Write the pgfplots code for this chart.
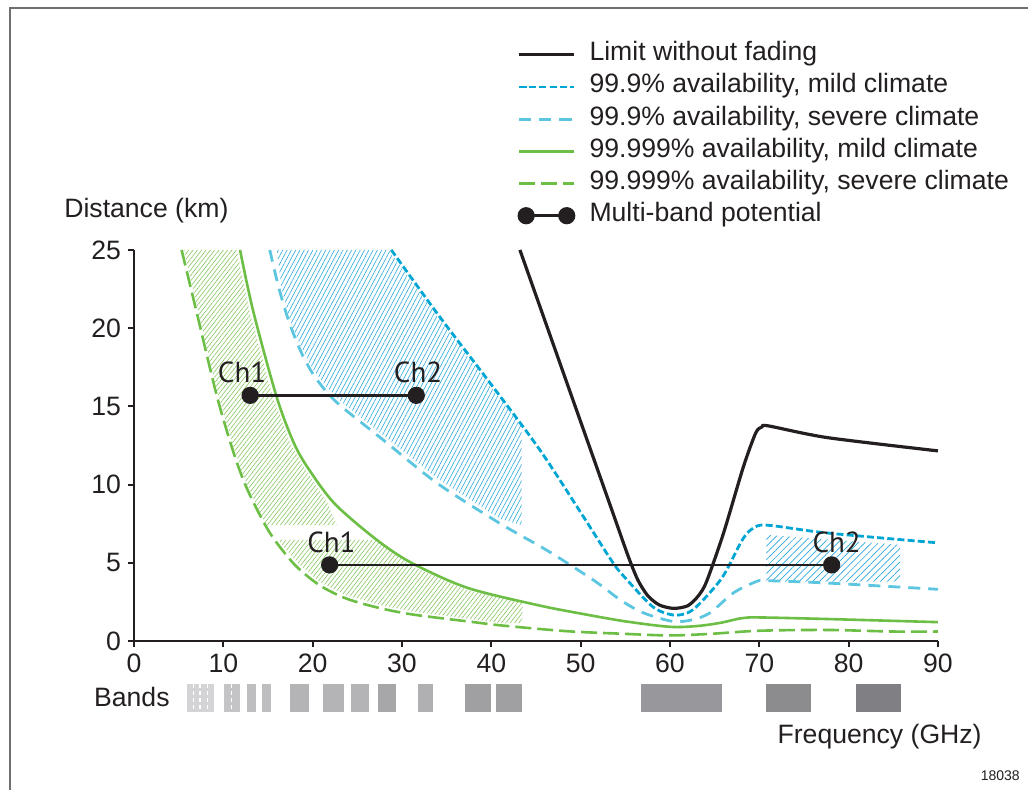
\documentclass[border=0pt]{standalone}
\usepackage{fontspec}
\setmainfont{Liberation Sans}
\newfontfamily\chfont{PT Sans}
\usepackage{pgfplots}
\pgfplotsset{compat=1.18}
\usetikzlibrary{patterns.meta}
\definecolor{cblack}{HTML}{231F20}
\definecolor{dblue}{HTML}{00A6D3}
\definecolor{lblue}{HTML}{5CC6E0}
\definecolor{cgreen}{HTML}{6CBE45}
\definecolor{hgreen}{HTML}{86C55F}
\definecolor{hblue}{HTML}{2AA8DC}
\definecolor{framegray}{HTML}{707070}
\pgfplotsset{mblegend/.style={legend image code/.code={\path (0pt,0pt) (27.5pt,0pt); \draw[##1] plot coordinates {(3.6pt,0pt) (23.9pt,0pt)};}}}
\newcommand{\tf}{\fontsize{13.3}{15}\selectfont}
\begin{document}
\begin{tikzpicture}
\begin{axis}[
  scale only axis, width=402pt, height=195.5pt,
  xmin=0, xmax=90, ymin=0, ymax=25,
  axis x line*=bottom, axis y line*=left,
  axis line style={line width=1.4pt, -, cblack},
  xtick={0,10,...,90}, ytick={0,5,...,25},
  tick align=outside, major tick length=3pt,
  tick style={line width=1pt, cblack},
  ticklabel style={font=\tf, text=cblack},
  /pgf/number format/assume math mode=true,
  clip=false,
  legend cell align=left,
  legend image code/.code={\draw[mark repeat=2,mark phase=2,#1] plot coordinates {(0pt,0pt) (13.75pt,0pt) (27.5pt,0pt)};},
  legend style={at={(axis cs:42.87,38.35)}, anchor=north west, draw=none, fill=none,
    inner sep=0pt, row sep=2.9pt, column sep=7pt,
    font=\tf, text=cblack,
    nodes={inner sep=0pt, text height=9.6pt, text depth=3.6pt}},
]
% ---------- hatched regions ----------
\addplot[draw=none, forget plot, pattern={Lines[angle=52,distance=1.7pt,line width=0.3pt]}, pattern color=hgreen]
  coordinates {(5.6,25) (7.2,21.05) (9.45,15.7) (11.2,12.3) (12.5,10.2) (13.8,8.6) (14.8,7.4) (22.7,7.4) (21.7,8.75) (19.2,10.95) (17.5,12.65) (15.55,15.6) (12.95,21.05) (11.5,25)} -- cycle;
\addplot[draw=none, forget plot, pattern={Lines[angle=52,distance=1.7pt,line width=0.3pt]}, pattern color=hgreen]
  coordinates {(16.2,6.46) (27.0,6.46) (31.0,4.8) (37.3,3.25) (43.5,2.45) (43.5,1.15) (41.3,1.12) (37.6,1.4) (31.3,1.87) (27.5,2.3) (23.8,2.9) (20.8,3.75) (18.4,4.95) (16.8,6.0)} -- cycle;
\addplot[draw=none, forget plot, pattern={Lines[angle=62,distance=1.9pt,line width=0.3pt]}, pattern color=hblue]
  coordinates {(16.0,25) (28.5,25) (34.0,20.7) (39.6,16.5) (43.4,13.7) (43.4,7.4) (41.0,7.8) (33.9,10.4) (27.9,13.15) (23.3,15.25) (21.6,16.2) (20.0,17.4) (18.6,18.9) (17.3,20.8) (16.5,22.6)} -- cycle;
\addplot[draw=none, forget plot, pattern={Lines[angle=45,distance=2.4pt,line width=0.35pt]}, pattern color=hblue]
  coordinates {(70.8,6.78) (85.75,6.14) (85.75,3.79) (70.8,3.79)} -- cycle;
% ---------- bands ----------
\addplot[fill={rgb,255:red,212;green,212;blue,214}, draw=none, forget plot] coordinates {(5.93,-2.75) (8.96,-2.75) (8.96,-4.54) (5.93,-4.54)} -- cycle;
\addplot[fill={rgb,255:red,196;green,196;blue,198}, draw=none, forget plot] coordinates {(10.07,-2.75) (11.87,-2.75) (11.87,-4.54) (10.07,-4.54)} -- cycle;
\addplot[fill={rgb,255:red,190;green,190;blue,192}, draw=none, forget plot] coordinates {(12.6,-2.75) (13.7,-2.75) (13.7,-4.54) (12.6,-4.54)} -- cycle;
\addplot[fill={rgb,255:red,190;green,190;blue,192}, draw=none, forget plot] coordinates {(14.3,-2.75) (15.3,-2.75) (15.3,-4.54) (14.3,-4.54)} -- cycle;
\addplot[fill={rgb,255:red,180;green,180;blue,182}, draw=none, forget plot] coordinates {(17.5,-2.75) (19.6,-2.75) (19.6,-4.54) (17.5,-4.54)} -- cycle;
\addplot[fill={rgb,255:red,180;green,180;blue,182}, draw=none, forget plot] coordinates {(21.2,-2.75) (23.5,-2.75) (23.5,-4.54) (21.2,-4.54)} -- cycle;
\addplot[fill={rgb,255:red,180;green,180;blue,182}, draw=none, forget plot] coordinates {(24.3,-2.75) (26.3,-2.75) (26.3,-4.54) (24.3,-4.54)} -- cycle;
\addplot[fill={rgb,255:red,167;green,167;blue,169}, draw=none, forget plot] coordinates {(27.3,-2.75) (29.3,-2.75) (29.3,-4.54) (27.3,-4.54)} -- cycle;
\addplot[fill={rgb,255:red,176;green,176;blue,178}, draw=none, forget plot] coordinates {(31.8,-2.75) (33.5,-2.75) (33.5,-4.54) (31.8,-4.54)} -- cycle;
\addplot[fill={rgb,255:red,160;green,160;blue,162}, draw=none, forget plot] coordinates {(37.1,-2.75) (40.0,-2.75) (40.0,-4.54) (37.1,-4.54)} -- cycle;
\addplot[fill={rgb,255:red,160;green,160;blue,162}, draw=none, forget plot] coordinates {(40.5,-2.75) (43.4,-2.75) (43.4,-4.54) (40.5,-4.54)} -- cycle;
\addplot[fill={rgb,255:red,152;green,152;blue,156}, draw=none, forget plot] coordinates {(56.8,-2.75) (65.8,-2.75) (65.8,-4.54) (56.8,-4.54)} -- cycle;
\addplot[fill={rgb,255:red,140;green,140;blue,143}, draw=none, forget plot] coordinates {(70.7,-2.75) (75.8,-2.75) (75.8,-4.54) (70.7,-4.54)} -- cycle;
\addplot[fill={rgb,255:red,128;green,128;blue,132}, draw=none, forget plot] coordinates {(80.8,-2.75) (85.9,-2.75) (85.9,-4.54) (80.8,-4.54)} -- cycle;
\addplot[white, line width=0.6pt, dash pattern=on 2pt off 1.5pt, forget plot] coordinates {(6.64,-2.75) (6.64,-4.54)};
\addplot[white, line width=0.6pt, dash pattern=on 2pt off 1.5pt, forget plot] coordinates {(7.39,-2.75) (7.39,-4.54)};
\addplot[white, line width=0.6pt, dash pattern=on 2pt off 1.5pt, forget plot] coordinates {(8.25,-2.75) (8.25,-4.54)};
\addplot[white, line width=0.6pt, dash pattern=on 2pt off 1.5pt, forget plot] coordinates {(10.9,-2.75) (10.9,-4.54)};
% ---------- curves ----------
\addplot[cblack, line width=1.6pt, smooth, tension=0.45] coordinates {
 (43.2,25) (49,15.63) (53.5,8.36) (55.3,5.45) (56.4,3.9) (57.5,2.9) (58.8,2.3) (60.4,2.08) (62.0,2.25) (63.2,2.9) (64.1,3.8) (66.0,6.9) (68.2,11.1) (69.6,13.3) (70.3,13.68) (71.0,13.75) (77.6,13.0) (90,12.15)};
\addlegendentry{Limit without fading}
\addplot[dblue, line width=1.4pt, dash pattern=on 3.5pt off 1.6pt, smooth, tension=0.5] coordinates {
 (28.8,25) (34.25,20.7) (39.85,16.5) (45.45,12.2) (50.3,7.95) (53.65,4.97) (55.2,3.9) (58.1,2.17) (60.3,1.66) (62,1.8) (63.4,2.43) (65.9,4.1) (68.1,6.46) (69.3,7.2) (70.9,7.4) (77.6,6.9) (90,6.27)};
\addlegendentry{99.9\% availability, mild climate}
\addplot[lblue, line width=1.4pt, dash pattern=on 6pt off 4pt, smooth, tension=0.5] coordinates {
 (15.2,25) (16.2,22.6) (17.3,20.5) (18.6,18.6) (20.0,17.1) (21.6,15.9) (23.3,14.95) (27.9,12.85) (33.9,10.1) (41.0,7.5) (46.2,5.8) (51.4,3.9) (54.5,2.6) (57,1.8) (60.3,1.25) (62.5,1.35) (64.5,1.8) (67.1,3.07) (69.7,3.8) (70.9,3.85) (77.6,3.7) (90,3.3)};
\addlegendentry{99.9\% availability, severe climate}
\addplot[cgreen, line width=1.3pt, smooth, tension=0.5] coordinates {
 (11.87,25) (13.36,21.05) (15.97,15.6) (17.9,12.65) (19.6,10.95) (22.5,8.75) (27.2,6.45) (31.1,4.98) (37.3,3.4) (45.1,2.3) (50,1.75) (55,1.25) (60,0.9) (63,0.95) (65.6,1.15) (68,1.45) (70,1.5) (77.6,1.4) (90,1.2)};
\addlegendentry{99.999\% availability, mild climate}
\addplot[cgreen, line width=1.3pt, dash pattern=on 8pt off 3pt, smooth, tension=0.5] coordinates {
 (5.33,25) (7.0,21.05) (9.26,15.7) (11.0,12.3) (12.3,10.2) (13.6,8.6) (15.0,7.1) (16.3,6.03) (18.2,4.75) (20.8,3.55) (23.8,2.7) (27.5,2.1) (31.3,1.68) (37.6,1.23) (41.3,0.98) (48.5,0.62) (55,0.45) (60,0.35) (64.5,0.45) (70,0.65) (77.6,0.7) (85,0.6) (90,0.6)};
\addlegendentry{99.999\% availability, severe climate}
\addplot[cblack, line width=1.4pt, mark=*, mark size=3.6pt, mark options={solid, fill=cblack}, mblegend]
  coordinates {(13.0,15.7) (31.6,15.7)};
\addlegendentry{Multi-band potential}
\addplot[cblack, line width=1.4pt, mark=*, mark size=3.6pt, mark options={solid, fill=cblack}, forget plot]
  coordinates {(21.9,4.86) (78.1,4.86)};
% ---------- labels ----------
\node[anchor=base, font=\chfont\fontsize{14.5}{16}\selectfont, text=cblack, inner sep=0pt] at ([yshift=6.2pt]axis cs:12.1,15.7) {Ch1};
\node[anchor=base, font=\chfont\fontsize{14.5}{16}\selectfont, text=cblack, inner sep=0pt] at ([yshift=6.2pt]axis cs:31.8,15.7) {Ch2};
\node[anchor=base, font=\chfont\fontsize{14.5}{16}\selectfont, text=cblack, inner sep=0pt] at ([yshift=6.2pt]axis cs:22.1,4.86) {Ch1};
\node[anchor=base, font=\chfont\fontsize{14.5}{16}\selectfont, text=cblack, inner sep=0pt] at ([yshift=6.2pt]axis cs:78.66,4.86) {Ch2};
\node[anchor=west, inner sep=0pt, font=\tf, text=cblack] at (axis cs:-7.84,27.5) {Distance (km)};
\node[anchor=east, inner sep=0pt, font=\tf, text=cblack] at (axis cs:4.03,-3.6) {Bands};
\node[anchor=east, inner sep=0pt, font=\tf, text=cblack] at (axis cs:94.93,-6.14) {Frequency (GHz)};
\node[anchor=east, inner sep=0pt, font=\fontsize{7}{8}\selectfont, text=cblack] at (axis cs:99.2,-8.63) {18038};
\coordinate (BL) at (axis cs:-15.0,-9.53);
\coordinate (TR) at (axis cs:100.08,40.98);
\coordinate (FL) at (axis cs:-13.88,-9.53);
\coordinate (FT) at (axis cs:-13.88,40.47);
\coordinate (FR) at (axis cs:100.08,40.47);
\end{axis}
\draw[framegray, line width=0.8pt] (FL) -- (FT) -- (FR);
\pgfresetboundingbox
\useasboundingbox (BL) rectangle (TR);
\end{tikzpicture}
\end{document}
